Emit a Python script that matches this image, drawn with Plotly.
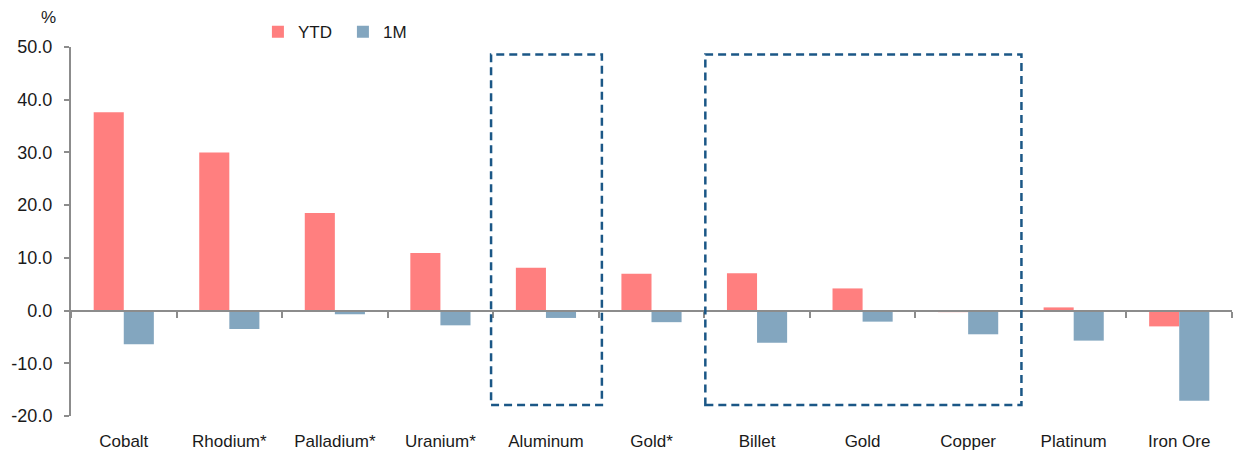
import plotly.graph_objects as go

categories = ["Cobalt", "Rhodium*", "Palladium*", "Uranium*", "Aluminum", "Gold*",
              "Billet", "Gold", "Copper", "Platinum", "Iron Ore"]
ytd = [37.6, 30.0, 18.5, 10.9, 8.1, 7.0, 7.1, 4.2, -0.3, 0.6, -3.0]
one_m = [-6.4, -3.5, -0.7, -2.8, -1.4, -2.2, -6.1, -2.1, -4.5, -5.7, -17.1]
y_ticks = [-20, -10, 0, 10, 20, 30, 40, 50]
y_tick_labels = [f"{v:.1f}" for v in y_ticks]
boxed_groups = [("Aluminum", "Aluminum"), ("Billet", "Copper")]
box_pads = [(0.52, 0.53), (0.49, 0.505)]

YTD_COLOR = "#FF7F7F"
M1_COLOR = "#83A6BF"
AXIS_COLOR = "#8C8C8C"
BOX_COLOR = "#1B5786"
FONT = "Liberation Sans, Arial, sans-serif"

fig = go.Figure()
fig.add_trace(go.Bar(name="YTD", x=categories, y=ytd, marker_color=YTD_COLOR,
                     marker_line_width=0))
fig.add_trace(go.Bar(name="1M", x=categories, y=one_m, marker_color=M1_COLOR,
                     marker_line_width=0))
# invisible helper trace for the zero-line axis with boundary ticks
fig.add_trace(go.Scatter(x=[0, len(categories) - 1], y=[None, None], xaxis="x2",
                         showlegend=False, hoverinfo="skip", mode="markers"))

n = len(categories)
fig.update_layout(
    width=1234, height=455,
    margin=dict(l=71, r=2, t=47, b=39),
    plot_bgcolor="white", paper_bgcolor="white",
    barmode="group", bargap=0.43, bargroupgap=0,
    font=dict(family=FONT, size=17, color="#1a1a1a"),
    showlegend=True,
    legend=dict(orientation="h", x=0.161, xanchor="left", y=1.04, yanchor="middle",
                font=dict(size=17), itemwidth=30, traceorder="normal",
                entrywidth=40, entrywidthmode="pixels",
                bgcolor="rgba(0,0,0,0)"),
    xaxis=dict(type="category", categoryarray=categories, range=[-0.5, n - 0.5],
               showline=False, ticks="", showgrid=False, zeroline=False,
               tickfont=dict(size=17), ticklabelstandoff=13),
    xaxis2=dict(overlaying="x", anchor="free", position=(0 - (-20)) / 70,
                range=[-0.5, n - 0.5], showline=True, linecolor=AXIS_COLOR, linewidth=2,
                tickmode="array", tickvals=[i - 0.5 for i in range(n + 1)],
                ticks="outside", ticklen=6, tickwidth=2, tickcolor=AXIS_COLOR,
                showticklabels=False, showgrid=False, zeroline=False),
    yaxis=dict(range=[-20, 50], tickmode="array", tickvals=y_ticks, ticktext=y_tick_labels,
               showline=True, linecolor=AXIS_COLOR, linewidth=2, ticks="outside",
               ticklen=5, tickwidth=2, tickcolor=AXIS_COLOR, showgrid=False,
               zeroline=False, tickfont=dict(size=18), ticklabelstandoff=8),
)

fig.add_annotation(text="%", xref="paper", yref="paper", x=-0.0198, y=1.079,
                   showarrow=False, font=dict(size=17), xanchor="center", yanchor="middle")

for (first, last), (pad_l, pad_r) in zip(boxed_groups, box_pads):
    i0 = categories.index(first)
    i1 = categories.index(last)
    fig.add_shape(type="rect", xref="x", yref="y", x0=i0 - pad_l, x1=i1 + pad_r,
                  y0=-17.9, y1=48.6, line=dict(color=BOX_COLOR, width=2.5, dash="8px,5px"),
                  fillcolor="rgba(0,0,0,0)", layer="above")

fig.write_html("out.html")
